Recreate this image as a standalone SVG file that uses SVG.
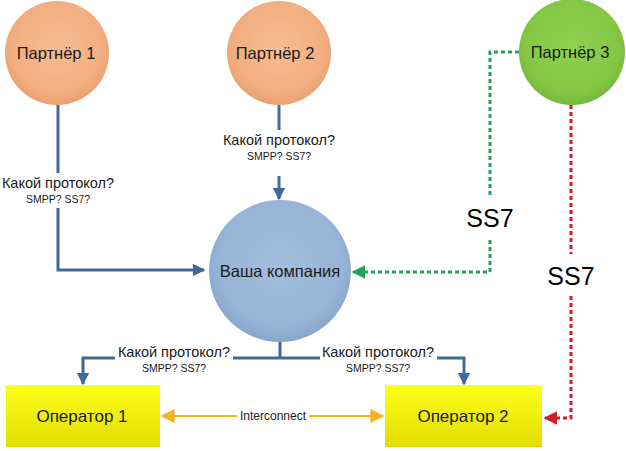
<svg xmlns="http://www.w3.org/2000/svg" width="626" height="451" viewBox="0 0 626 451">
<style>
.t{font-family:"Liberation Sans","DejaVu Sans",sans-serif;fill:#1a1a1a;text-anchor:middle;dominant-baseline:central}
.node{font-size:16.5px}
.q{font-size:14.5px}
.s{font-size:10.5px}
.big{font-size:25px;fill:#000}
.blue{fill:none;stroke:#3e6b9a;stroke-width:3}
.green{fill:none;stroke:#23a35a;stroke-width:3;stroke-dasharray:4 3}
.red{fill:none;stroke:#d21f26;stroke-width:3;stroke-dasharray:4 3}
.gold{fill:none;stroke:#f5b324;stroke-width:2}
</style>
<defs>
<radialGradient id="gO" cx="0.5" cy="0.45" r="0.55"><stop offset="0" stop-color="#f6bc93"/><stop offset="0.8" stop-color="#f2ae80"/><stop offset="1" stop-color="#e9a06f"/></radialGradient>
<radialGradient id="gG" cx="0.5" cy="0.45" r="0.55"><stop offset="0" stop-color="#8fd24f"/><stop offset="0.8" stop-color="#84c744"/><stop offset="1" stop-color="#76b83a"/></radialGradient>
<radialGradient id="gB" cx="0.5" cy="0.45" r="0.55"><stop offset="0" stop-color="#a2bedd"/><stop offset="0.8" stop-color="#96b4d7"/><stop offset="1" stop-color="#87a6cb"/></radialGradient>
<linearGradient id="gY" x1="0" y1="0" x2="0" y2="1"><stop offset="0" stop-color="#ffff1a"/><stop offset="1" stop-color="#e0dd00"/></linearGradient>
<marker id="aB" viewBox="0 0 10 10" refX="9" refY="5" markerWidth="4.2" markerHeight="4.2" orient="auto"><path d="M0,0 L10,5 L0,10 Z" fill="#3e6b9a"/></marker>
<marker id="aG" viewBox="0 0 10 10" refX="9" refY="5" markerWidth="4.5" markerHeight="4.5" orient="auto"><path d="M0,0 L10,5 L0,10 Z" fill="#23a35a"/></marker>
<marker id="aR" viewBox="0 0 10 10" refX="9" refY="5" markerWidth="4.5" markerHeight="4.5" orient="auto"><path d="M0,0 L10,5 L0,10 Z" fill="#d21f26"/></marker>
<marker id="aY" viewBox="0 0 10 10" refX="9" refY="5" markerWidth="7" markerHeight="7" orient="auto"><path d="M0,0 L10,5 L0,10 Z" fill="#f5b324"/></marker>
</defs>

<g id="connectors">
  <path class="blue" d="M58,105 V173"/>
  <path class="blue" d="M58,208 V270 H204" marker-end="url(#aB)"/>
  <path class="blue" d="M279,105 V130"/>
  <path class="blue" d="M279,176 V199" marker-end="url(#aB)"/>
  <path class="blue" d="M280,342 V358"/>
  <path class="blue" d="M320,358 H233"/>
  <path class="blue" d="M115,358 H83 V384" marker-end="url(#aB)"/>
  <path class="blue" d="M437,358 H464 V384" marker-end="url(#aB)"/>
  <path class="gold" d="M237,416 H162" marker-end="url(#aY)"/>
  <path class="gold" d="M309,416 H383" marker-end="url(#aY)"/>
  <path class="green" d="M519,52 H490 V197"/>
  <path class="green" d="M490,240 V272 H353" marker-end="url(#aG)"/>
  <path class="red" d="M571,105 V254"/>
  <path class="red" d="M571,296 V418 H545" marker-end="url(#aR)"/>
  <text class="t q" x="58" y="183">Какой протокол?</text>
  <text class="t s" x="58" y="199">SMPP? SS7?</text>
  <text class="t q" x="279" y="140">Какой протокол?</text>
  <text class="t s" x="279" y="156">SMPP? SS7?</text>
  <text class="t q" x="174" y="352">Какой протокол?</text>
  <text class="t s" x="174" y="368">SMPP? SS7?</text>
  <text class="t q" x="378" y="352">Какой протокол?</text>
  <text class="t s" x="378" y="368">SMPP? SS7?</text>
  <text class="t" x="273" y="416" style="font-size:12px">Interconnect</text>
  <text class="t big" x="490" y="218">SS7</text>
  <text class="t big" x="571" y="276">SS7</text>
</g>

<g id="partner1">
  <circle cx="57" cy="53" r="52" fill="url(#gO)"/>
  <text class="t node" x="56" y="53">Партнёр 1</text>
</g>
<g id="partner2">
  <circle cx="279" cy="53" r="52" fill="url(#gO)"/>
  <text class="t node" x="275" y="53">Партнёр 2</text>
</g>
<g id="partner3">
  <circle cx="572" cy="52" r="53" fill="url(#gG)"/>
  <text class="t node" x="570" y="52">Партнёр 3</text>
</g>
<g id="company">
  <circle cx="280" cy="271" r="71" fill="url(#gB)"/>
  <text class="t node" x="280" y="271">Ваша компания</text>
</g>
<g id="operator1">
  <rect x="6" y="385" width="154" height="62" fill="url(#gY)"/>
  <text class="t node" x="82" y="416" style="font-size:17px">Оператор 1</text>
</g>
<g id="operator2">
  <rect x="385" y="385" width="157" height="62" fill="url(#gY)"/>
  <text class="t node" x="463" y="416" style="font-size:17px">Оператор 2</text>
</g>
</svg>
